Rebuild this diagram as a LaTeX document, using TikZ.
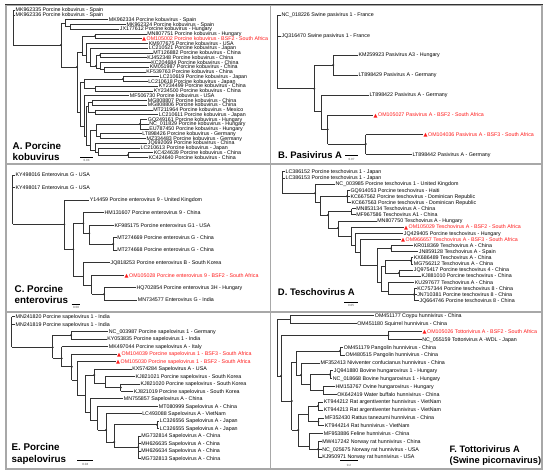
\documentclass[tikz,border=0pt]{standalone}
\usepackage{fontspec}
\setmainfont{Liberation Sans}
\newfontfamily\dvfont{DejaVu Sans}
\definecolor{brc}{HTML}{333333}
\definecolor{rdc}{HTML}{FF1A1A}
\definecolor{frm}{HTML}{A8A8A8}
\tikzset{
 br/.style={draw=brc, line width=0.5pt},
 lbl/.style={anchor=west, inner sep=0.4pt, text height=3.8pt, text depth=0pt, font=\fontsize{5.3}{6}\selectfont, text=black},
 lblr/.style={lbl, text=rdc},
 ttl/.style={anchor=base west, inner sep=0pt, font=\fontsize{9.8}{11}\selectfont\bfseries},
 sc/.style={inner sep=0pt, font=\fontsize{3}{3}\selectfont, text=black!70},
 sbar/.style={draw=black, line width=0.6pt},
 frame/.style={draw=frm, line width=1.6pt},
 smallA/.style={font=\fontsize{5.05}{6}\selectfont},
}
\newcommand{\brH}[3]{\draw[br] (#1,#3) -- (#2,#3);}
\newcommand{\brV}[3]{\draw[br] (#1,#2) -- (#1,#3);}
\newcommand{\brD}[2]{\fill[brc] (#1,#2) circle[radius=1.1pt];}
\newcommand{\leafN}[5]{\node[lbl] (#1) at (#4,#3) {#5}; \draw[br] (#2,#3) -- (#1.west);}
\newcommand{\leafR}[5]{\node[lblr] (#1) at (#4,#3) {\raisebox{-0.3pt}{\dvfont\fontsize{5.2}{5}\selectfont ▲}\hspace{0.6pt}#5}; \draw[br] (#2,#3) -- (#1.west);}
\begin{document}
\begin{tikzpicture}[x=1pt,y=-1pt]
\useasboundingbox (0,0) rectangle (550,475);
\fill[white] (0,0) rectangle (550,475);
% frame
\draw[frame] (5.8,4.8) rectangle (542.2,469.2);
\draw[frame] (270.5,4.8) -- (270.5,469.2);
\draw[frame] (5.8,164) -- (542.2,164);
\draw[frame] (5.8,312) -- (542.2,312);
\draw[black!80, line width=0.7pt] (5,4.2) -- (543,4.2);
% ================= Panel A
\begin{scope}[every node/.append style={smallA}]
\brV{13}{10}{45}
\leafN{a0}{13}{10}{15}{MK962335 Porcine kobuvirus - Spain}
\leafN{a1}{13}{14.75}{15}{MK962336 Porcine kobuvirus - Spain}
\brH{13}{61}{45} \brD{61}{45}
\brV{61}{23}{67}
\brH{61}{65}{23}
\brV{65}{19.5}{26.625}
\leafN{a2}{65}{19.5}{108.3}{MK962334 Porcine kobuvirus - Spain}
\brH{65}{70}{26.625}
\brV{70}{24.25}{29}
\leafN{a3}{70}{24.25}{126}{MK962324 Porcine kobuvirus - Spain}
\leafN{a4}{70}{29}{119.3}{JX177612 Porcine kobuvirus - Hungary}
\brH{61}{77}{67} \brD{77}{67}
\brV{77}{52}{112}
\brH{77}{82}{52}
\brV{82}{36.125}{55}
\brH{82}{95}{36.125} \brD{95}{36.125}
\brV{95}{33.75}{38.5}
\leafN{a5}{95}{33.75}{146.7}{MN807751 Porcine kobuvirus - Hungary}
\leafR{a6}{95}{38.5}{141.5}{OM105002 Porcine kobuvirus - BSF2 - South Africa}
\brH{82}{86}{55}
\brV{86}{43.25}{62}
\leafN{a7}{86}{43.25}{148.3}{KM977675 Porcine kobuvirus - USA}
\brH{86}{90}{62}
\brV{90}{48}{66}
\leafN{a8}{90}{48}{148.3}{LC210521 Porcine kobuvirus - Japan}
\brH{90}{96}{66} \brD{96}{66}
\brV{96}{55.125}{68}
\brH{96}{100}{55.125} \brD{100}{55.125}
\brV{100}{52.75}{57.5}
\leafN{a9}{100}{52.75}{152.7}{MT126882 Porcine kobuvirus - China}
\leafN{a10}{100}{57.5}{146.7}{KJ452348 Porcine kobuvirus - China}
\brH{96}{100}{68}
\brV{100}{62.25}{69.375}
\leafN{a11}{100}{62.25}{150.7}{KC204684 Porcine kobuvirus - China}
\brH{100}{104}{69.375}
\brV{104}{67}{71.75}
\leafN{a12}{104}{67}{149.3}{KM051987 Porcine kobuvirus - China}
\leafN{a13}{104}{71.75}{145.7}{KF539763 Porcine kobuvirus - China}
\brH{77}{80}{112}
\brV{80}{82}{126}
\brH{80}{84}{82}
\brV{84}{78.875}{88.375}
\brH{84}{123}{78.875} \brD{123}{78.875}
\brV{123}{76.5}{81.25}
\leafN{a14}{123}{76.5}{159.3}{LC210619 Porcine kobuvirus - Japan}
\leafN{a15}{123}{81.25}{147.7}{LC210618 Porcine kobuvirus - Japan}
\brH{84}{95}{88.375}
\brV{95}{86}{90.75}
\leafN{a16}{95}{86}{158.3}{KY234499 Porcine kobuvirus - China}
\leafN{a17}{95}{90.75}{153.3}{KY234500 Porcine kobuvirus - China}
\brH{80}{84}{126}
\brV{84}{95.5}{136}
\leafN{a18}{84}{95.5}{129.3}{MF506730 Porcine kobuvirus - USA}
\brH{84}{86}{136}
\brV{86}{106}{145}
\brH{86}{88}{106}
\brV{88}{102.625}{112.125}
\brH{88}{92}{102.625}
\brV{92}{100.25}{105}
\leafN{a19}{92}{100.25}{147.3}{MG808807 Porcine kobuvirus - China}
\leafN{a20}{92}{105}{147.3}{MG808806 Porcine kobuvirus - China}
\brH{88}{95}{112.125}
\brV{95}{109.75}{114.5}
\leafN{a21}{95}{109.75}{152.7}{MT211964 Porcine kobuvirus - Mexico}
\leafN{a22}{95}{114.5}{158.3}{LC210611 Porcine kobuvirus - Japan}
\brH{86}{90}{145}
\brV{90}{130}{150}
\brH{90}{96}{130}
\brV{96}{124}{135.875}
\brH{96}{140}{124} \brD{140}{124}
\brV{140}{119.25}{128.75}
\leafN{a23}{140}{119.25}{147.3}{GQ249161 Porcine kobuvirus - Hungary}
\leafN{a24}{140}{124}{148.7}{NC\_011829 Porcine kobuvirus - Hungary}
\leafN{a25}{140}{128.75}{148.7}{EU787450 Porcine kobuvirus - Hungary}
\brH{96}{100}{135.875}
\brV{100}{133.5}{138.25}
\leafN{a26}{100}{133.5}{141.7}{LT898426 Porcine kobuvirus - Germany}
\leafN{a27}{100}{138.25}{146}{MZ334483 Porcine kobuvirus - Germany}
\brH{90}{95}{150}
\brV{95}{143}{152}
\leafN{a28}{95}{143}{147.3}{JQ692069 Porcine kobuvirus - China}
\brH{95}{98}{152}
\brV{98}{147.75}{154.875}
\leafN{a29}{98}{147.75}{140}{LC210613 Porcine kobuvirus - Japan}
\brH{98}{128}{154.875} \brD{128}{154.875}
\brV{128}{152.5}{157.25}
\leafN{a30}{128}{152.5}{153.3}{KC424639 Porcine kobuvirus - China}
\leafN{a31}{128}{157.25}{148}{KC424640 Porcine kobuvirus - China}
\end{scope}
\node[ttl] (tA1) at (12.5,149) {A. Porcine};
\node[ttl] (tA2) at (12.5,160) {kobuvirus};
\coordinate (sA1) at (80,157); \coordinate (sA2) at (93,157);
\draw[sbar] (sA1) -- (sA2);
\node[sc] (sAt) at (86.5,160.5) {0.03};
% ================= Panel B
\brV{277.7}{15}{88.7}
\leafN{b0}{277.7}{15}{281}{NC\_018226 Swine pasivirus 1 - France}
\leafN{b1}{277.7}{36}{281}{JQ316470 Swine pasivirus 1 - France}
\brH{277.7}{314.3}{88.7} \brD{314.3}{88.7}
\brV{314.3}{65}{111.7}
\brH{314.3}{333.3}{65} \brD{333.3}{65}
\brV{333.3}{55}{75}
\leafN{b2}{333.3}{55}{358}{KM259923 Pasivirus A3 - Hungary}
\leafN{b3}{333.3}{75}{358}{LT898429 Pasivirus A - Germany}
\brH{314.3}{321}{111.7}
\brV{321}{95}{129.3}
\leafN{b4}{321}{95}{369}{LT898422 Pasivirus A - Germany}
\brH{321}{327.7}{129.3} \brD{327.7}{129.3}
\brV{327.7}{115}{144}
\leafR{b5}{327.7}{115}{373}{OM105027 Pasivirus A - BSF2 - South Africa}
\brH{327.7}{365.7}{144} \brD{365.7}{144}
\brV{365.7}{134.7}{154.3}
\leafR{b6}{365.7}{134.7}{423}{OM104036 Pasivirus A - BSF3 - South Africa}
\leafN{b7}{365.7}{154.3}{412}{LT898442 Pasivirus A - Germany}
\node[ttl, font=\fontsize{9.5}{11}\selectfont\bfseries] (tB) at (278,158.5) {B. Pasivirus A};
\coordinate (sB1) at (345,155); \coordinate (sB2) at (358,155);
\draw[sbar] (sB1) -- (sB2);
\node[sc] (sBt) at (351.5,159) {0.07};
% ================= Panel C
\brV{12.7}{175}{224.3}
\leafN{c0}{12.7}{175}{15}{KY498016 Enterovirus G - USA}
\leafN{c1}{12.7}{187.7}{15}{KY498017 Enterovirus G - USA}
\brH{12.7}{64.3}{224.3} \brD{64.3}{224.3}
\brV{64.3}{200}{249.3}
\leafN{c2}{64.3}{200}{89.3}{Y14459 Porcine enterovirus 9 - United Kingdom}
\brH{64.3}{73.3}{249.3} \brD{73.3}{249.3}
\brV{73.3}{223.3}{276.7}
\brH{73.3}{83.3}{223.3} \brD{83.3}{223.3}
\brV{83.3}{212.7}{233.3}
\leafN{c3}{83.3}{212.7}{104}{HM131607 Porcine enterovirus 9 - China}
\brH{83.3}{89.3}{233.3} \brD{89.3}{233.3}
\brV{89.3}{225.3}{244}
\leafN{c4}{89.3}{225.3}{114}{KF985175 Porcine enterovirus G1 - USA}
\brH{89.3}{113.3}{244} \brD{113.3}{244}
\brV{113.3}{237.7}{250}
\leafN{c5}{113.3}{237.7}{116.7}{MT274669 Porcine enterovirus G - China}
\leafN{c6}{113.3}{250}{116.7}{MT274668 Porcine enterovirus G - China}
\brH{73.3}{83.3}{276.7}
\brV{83.3}{262.7}{285}
\leafN{c7}{83.3}{262.7}{110}{JQ818253 Porcine enterovirus B - South Korea}
\brH{83.3}{91.7}{285}
\brV{91.7}{275.3}{294.3}
\leafR{c8}{91.7}{275.3}{124}{OM105028 Porcine enterovirus 9 - BSF2 - South Africa}
\brH{91.7}{104}{294.3} \brD{104}{294.3}
\brV{104}{287.7}{300}
\leafN{c9}{104}{287.7}{136}{HQ702854 Porcine enterovirus 3H - Hungary}
\leafN{c10}{104}{300}{137.3}{MN734577 Enterovirus G - India}
\node[ttl] (tC1) at (14.5,292) {C. Porcine};
\node[ttl] (tC2) at (14.5,303.5) {enterovirus};
\coordinate (sC1) at (71.7,304); \coordinate (sC2) at (80,304);
\draw[sbar] (sC1) -- (sC2);
\node[sc] (sCt) at (76,307.5) {0.08};
% ================= Panel D
\brV{282.3}{171.7}{193.3}
\leafN{d0}{282.3}{171.7}{285}{LC386152 Porcine teschovirus 1 - Japan}
\leafN{d1}{282.3}{177.84}{285}{LC386153 Porcine teschovirus 1 - Japan}
\brH{282.3}{315}{193.3} \brD{315}{193.3}
\brV{315}{183.98}{202}
\leafN{d2}{315}{183.98}{335}{NC\_003985 Porcine teschovirus 1 - United Kingdom}
\brH{315}{320}{202}
\brV{320}{196.26}{215}
\brH{320}{347}{196.26} \brD{347}{196.26}
\brV{347}{190.12}{202.4}
\leafN{d3}{347}{190.12}{350}{GQ914053 Porcine teschovirus - Haiti}
\leafN{d4}{347}{196.26}{350}{KC667562 Porcine teschovirus - Dominican Republic}
\leafN{d5}{347}{202.4}{351}{KC667563 Porcine teschovirus - Dominican Republic}
\brH{320}{328}{215} \brD{328}{215}
\brV{328}{211.61}{228}
\brH{328}{351.7}{211.61}
\brV{351.7}{208.54}{214.68}
\leafN{d6}{351.7}{208.54}{355.7}{MN853134 Teschovirus A - China}
\leafN{d7}{351.7}{214.68}{355.7}{MF967586 Teschovirus A1 - China}
\brH{328}{338}{228} \brD{338}{228}
\brV{338}{220.82}{236}
\leafN{d8}{338}{220.82}{376.7}{MN807750 Teschovirus A - Hungary}
\brH{338}{351}{236}
\brV{351}{226.96}{245}
\leafR{d9}{351}{226.96}{403.5}{OM105029 Teschovirus A - BSF2 - South Africa}
\brH{351}{355}{245}
\brV{355}{233.1}{252}
\leafN{d10}{355}{233.1}{403.3}{JQ429405 Porcine teschovirus - Hungary}
\brH{355}{360}{252}
\brV{360}{239.24}{265}
\leafR{d11}{360}{239.24}{400.5}{OM966657 Teschovirus A - BSF3 - South Africa}
\brH{360}{377}{265}
\brV{377}{248.45}{282}
\brH{377}{391}{248.45} \brD{391}{248.45}
\brV{391}{245.38}{251.52}
\leafN{d12}{391}{245.38}{413.3}{KR018369 Teschovirus A - China}
\leafN{d13}{391}{251.52}{418.3}{JN859128 Teschovirus A - Spain}
\brH{377}{381}{282}
\brV{381}{266}{291}
\brH{381}{385}{266}
\brV{385}{260.73}{273.01}
\brH{385}{411}{260.73} \brD{411}{260.73}
\brV{411}{257.66}{263.8}
\leafN{d14}{411}{257.66}{413.3}{KX686489 Teschovirus A - China}
\leafN{d15}{411}{263.8}{413.3}{MG756212 Teschovirus A - China}
\brH{385}{399}{273.01} \brD{399}{273.01}
\brV{399}{269.94}{276.08}
\leafN{d16}{399}{269.94}{413.3}{JQ975417 Porcine teschovirus 4 - China}
\leafN{d17}{399}{276.08}{421}{KJ881010 Porcine teschovirus - China}
\brH{381}{388}{291}
\brV{388}{282.22}{294.5}
\leafN{d18}{388}{282.22}{414.3}{KU297677 Teschovirus A - China}
\brH{388}{414}{294.5} \brD{414}{294.5}
\brV{414}{288.36}{300.64}
\leafN{d19}{414}{288.36}{416.7}{KC757344 Porcine teschovirus 8 - China}
\leafN{d20}{414}{294.5}{416.7}{JN710381 Porcine teschovirus 8 - China}
\leafN{d21}{414}{300.64}{419}{JQ664746 Porcine teschovirus 8 - China}
\node[ttl, font=\fontsize{9.5}{11}\selectfont\bfseries] (tD) at (277.7,295.5) {D. Teschovirus A};
\coordinate (sD1) at (344,302); \coordinate (sD2) at (358,302);
\draw[sbar] (sD1) -- (sD2);
\node[sc] (sDt) at (351,305.8) {0.05};
% ================= Panel E
\brV{11.7}{316.7}{347.3}
\leafN{e0}{11.7}{316.7}{15}{MN241820 Porcine sapelovirus 1 - India}
\leafN{e1}{11.7}{324.15}{15}{MN241819 Porcine sapelovirus 1 - India}
\brH{11.7}{52.7}{347.3} \brD{52.7}{347.3}
\brV{52.7}{335.325}{358.3}
\brH{52.7}{71}{335.325} \brD{71}{335.325}
\brV{71}{331.6}{339.05}
\leafN{e2}{71}{331.6}{108.3}{NC\_003987 Porcine sapelovirus 1 - Germany}
\leafN{e3}{71}{339.05}{106.7}{KY053835 Porcine sapelovirus 1 - India}
\brH{52.7}{61.7}{358.3} \brD{61.7}{358.3}
\brV{61.7}{346.5}{366.7}
\leafN{e4}{61.7}{346.5}{108.3}{MK497044 Porcine sapelovirus A - Italy}
\brH{61.7}{71.7}{366.7} \brD{71.7}{366.7}
\brV{71.7}{353.95}{380}
\leafR{e5}{71.7}{353.95}{116.5}{OM104039 Porcine sapelovirus 1 - BSF3 - South Africa}
\brH{71.7}{77.3}{380}
\brV{77.3}{361.4}{395}
\leafR{e6}{77.3}{361.4}{115.5}{OM105030 Porcine sapelovirus 1 - BSF2 - South Africa}
\brH{77.3}{85}{395}
\brV{85}{375}{412}
\brH{85}{94.3}{375} \brD{94.3}{375}
\brV{94.3}{368.85}{383}
\leafN{e7}{94.3}{368.85}{131.7}{KX574284 Sapelovirus A - USA}
\brH{94.3}{105}{383}
\brV{105}{376.3}{387.475}
\leafN{e8}{105}{376.3}{135}{KJ821021 Porcine sapelovirus - South Korea}
\brH{105}{120.7}{387.475} \brD{120.7}{387.475}
\brV{120.7}{383.75}{391.2}
\leafN{e9}{120.7}{383.75}{140}{KJ821020 Porcine sapelovirus - South Korea}
\leafN{e10}{120.7}{391.2}{133.3}{KJ821019 Porcine sapelovirus - South Korea}
\brH{85}{90}{412}
\brV{90}{398.65}{420}
\leafN{e11}{90}{398.65}{123.3}{MN755857 Sapelovirus A - China}
\brH{90}{97.7}{420}
\brV{97.7}{406.1}{430}
\leafN{e12}{97.7}{406.1}{158.3}{MT080999 Sapelovirus A - China}
\brH{97.7}{106}{430} \brD{106}{430}
\brV{106}{413.55}{442}
\leafN{e13}{106}{413.55}{141.7}{LC493088 Sapelovirus A - VietNam}
\brH{106}{114.3}{442} \brD{114.3}{442}
\brV{114.3}{424.725}{447.075}
\brH{114.3}{157}{424.725} \brD{157}{424.725}
\brV{157}{421}{428.45}
\leafN{e14}{157}{421}{159.3}{LC326556 Sapelovirus A - Japan}
\leafN{e15}{157}{428.45}{159.3}{LC326555 Sapelovirus A - Japan}
\brH{114.3}{138.3}{447.075} \brD{138.3}{447.075}
\brV{138.3}{435.9}{458.25}
\leafN{e16}{138.3}{435.9}{140.7}{MG732814 Sapelovirus A - China}
\leafN{e17}{138.3}{443.35}{140.7}{MH626635 Sapelovirus A - China}
\leafN{e18}{138.3}{450.8}{140.7}{MH626634 Sapelovirus A - China}
\leafN{e19}{138.3}{458.25}{140.7}{MG732813 Sapelovirus A - China}
\node[ttl] (tE1) at (11.5,450.5) {E. Porcine};
\node[ttl] (tE2) at (11.5,462) {sapelovirus};
\coordinate (sE1) at (77.3,460.3); \coordinate (sE2) at (93.3,460.3);
\draw[sbar] (sE1) -- (sE2);
\node[sc] (sEt) at (85.3,464.5) {0.04};
% ================= Panel F
\brV{277}{319.625}{376}
\brH{277}{290}{319.625}
\brV{290}{315.7}{323.55}
\leafN{f0}{290}{315.7}{374.3}{OM451177 Coypu hunnivirus - China}
\leafN{f1}{290}{323.55}{356.7}{OM451180 Squirrel hunnivirus - China}
\brH{277}{281}{376} \brD{281}{376}
\brV{281}{335.325}{401}
\brH{281}{388.3}{335.325} \brD{388.3}{335.325}
\brV{388.3}{331.4}{339.25}
\leafR{f2}{388.3}{331.4}{422}{OM105026 Tottorivirus A - BSF2 - South Africa}
\leafN{f3}{388.3}{339.25}{421.7}{NC\_055159 Tottorivirus A -WDL - Japan}
\brH{281}{291.7}{401} \brD{291.7}{401}
\brV{291.7}{362}{430}
\brH{291.7}{296}{362}
\brV{296}{351.025}{375}
\brH{296}{340}{351.025} \brD{340}{351.025}
\brV{340}{347.1}{354.95}
\leafN{f4}{340}{347.1}{343.3}{OM451179 Pangolin hunnivirus - China}
\leafN{f5}{340}{354.95}{345}{OM480515 Pangolin hunnivirus - China}
\brH{296}{301}{375} \brD{301}{375}
\brV{301}{362.8}{384}
\leafN{f6}{301}{362.8}{320}{MF352413 Niviventer confucianus hunnivirus - China}
\brH{301}{310}{384}
\brV{310}{374.575}{390.275}
\brH{310}{330}{374.575} \brD{330}{374.575}
\brV{330}{370.65}{378.5}
\leafN{f7}{330}{370.65}{333.3}{JQ941880 Bovine hungarovirus 1 - Hungary}
\leafN{f8}{330}{378.5}{332.3}{NC\_018668 Bovine hungarovirus 1 - Hungary}
\brH{310}{323.3}{390.275}
\brV{323.3}{386.35}{394.2}
\leafN{f9}{323.3}{386.35}{335}{HM153767 Ovine hungarovirus - Hungary}
\leafN{f10}{323.3}{394.2}{336.7}{OK642419 Water buffalo hunnivirus - China}
\brH{291.7}{298.3}{430} \brD{298.3}{430}
\brV{298.3}{414}{446}
\brH{298.3}{308}{414}
\brV{308}{405.975}{421.675}
\brH{308}{318}{405.975} \brD{318}{405.975}
\brV{318}{402.05}{409.9}
\leafN{f11}{318}{402.05}{323.3}{KT944212 Rat argentiventer hunnivirus - VietNam}
\leafN{f12}{318}{409.9}{323.3}{KT944213 Rat argentiventer hunnivirus - VietNam}
\brH{308}{318.3}{421.675} \brD{318.3}{421.675}
\brV{318.3}{417.75}{425.6}
\leafN{f13}{318.3}{417.75}{324.3}{MF352430 Rattus tanezumi hunnivirus - China}
\leafN{f14}{318.3}{425.6}{324.3}{KT944214 Rat hunnivirus - VietNam}
\brH{298.3}{309}{446}
\brV{309}{433.45}{449.15}
\leafN{f15}{309}{433.45}{323.3}{MF953886 Feline hunnivirus - China}
\brH{309}{318}{449.15} \brD{318}{449.15}
\brV{318}{441.3}{457}
\leafN{f16}{318}{441.3}{321.7}{MW417242 Norway rat hunnivirus - China}
\leafN{f17}{318}{449.15}{321.7}{NC\_025675 Norway rat hunnivirus - USA}
\leafN{f18}{318}{457}{321.7}{KJ950971 Norway rat hunnivirus - USA}
\node[ttl, font=\fontsize{9.3}{10}\selectfont\bfseries] (tF1) at (449.5,452.5) {F. Tottorivirus A};
\node[ttl, font=\fontsize{9.3}{10}\selectfont\bfseries] (tF2) at (449.5,463.5) {(Swine picornavirus)};
\coordinate (sF1) at (340,460); \coordinate (sF2) at (358,460);
\draw[sbar] (sF1) -- (sF2);
\node[sc] (sFt) at (349,465) {0.2};
\end{tikzpicture}
\end{document}
